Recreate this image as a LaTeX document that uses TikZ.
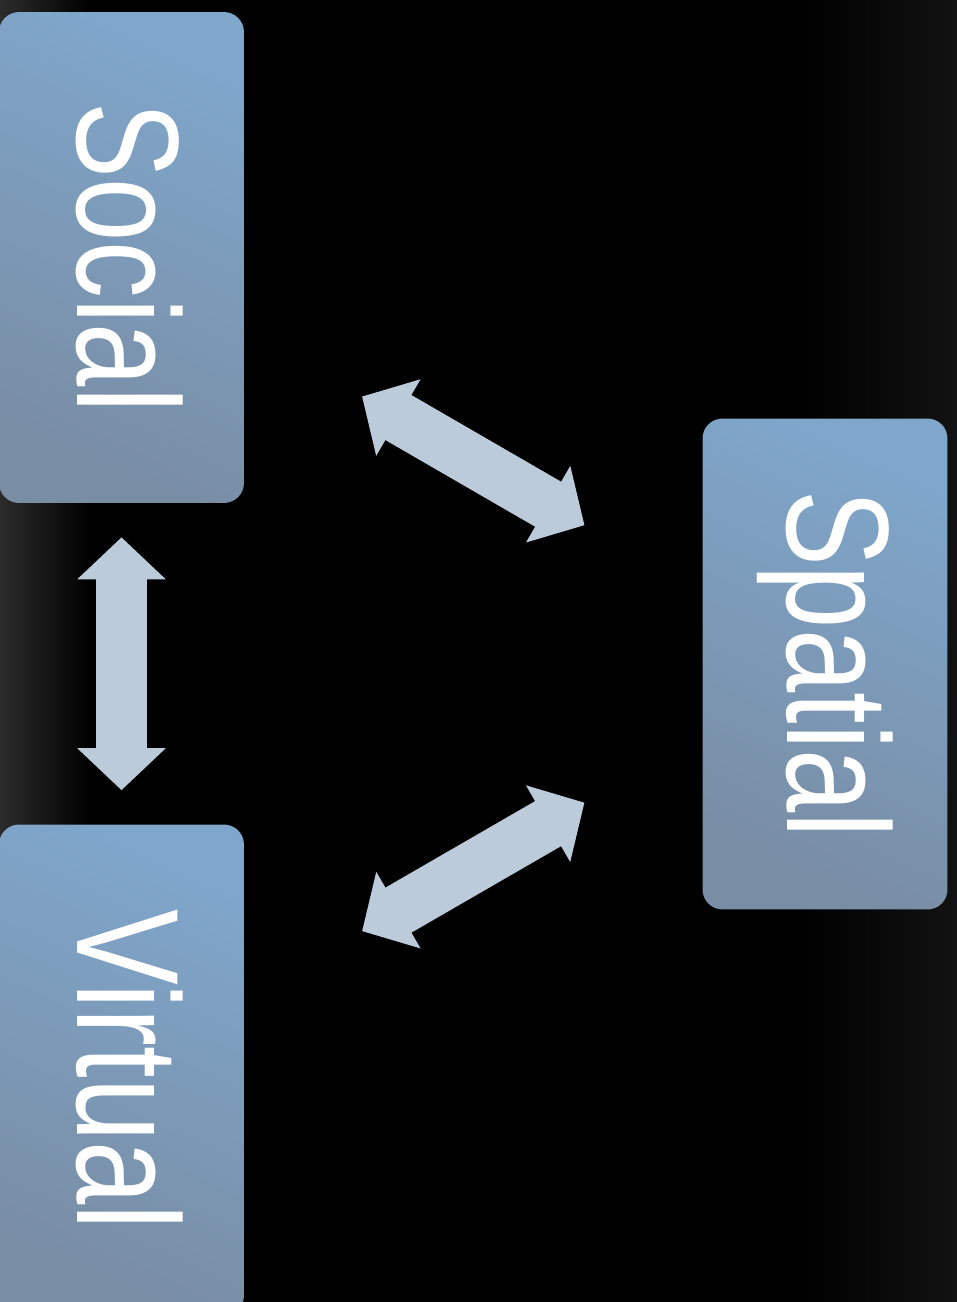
\documentclass[tikz,border=0pt]{standalone}
\usepackage{fontspec}
\setmainfont{Liberation Sans}
\usetikzlibrary{arrows.meta}
\definecolor{boxtop}{RGB}{127,166,203}
\definecolor{boxbottom}{RGB}{121,141,164}
\definecolor{arrowfill}{RGB}{188,203,218}
\definecolor{leftglow}{RGB}{44,44,44}
\definecolor{rightglow}{RGB}{18,18,18}

\begin{document}
\begin{tikzpicture}[x=0.02cm, y=-0.02cm,
  aspect/.style={rounded corners=0.4cm, top color=boxtop, bottom color=boxbottom, shading angle=-25,
    minimum width=4.9cm, minimum height=9.82cm, inner sep=0pt, text=white,
    font=\fontsize{83pt}{88pt}\selectfont},
  link/.style={draw=arrowfill, line width=1.04cm,
    {Triangle[width=1.72cm,length=0.84cm]}-{Triangle[width=1.72cm,length=0.84cm]}}]
\useasboundingbox (0,0) rectangle (957,1302);
\fill[black] (0,0) rectangle (957,1302);
\shade[left color=leftglow, right color=black] (0,0) rectangle (90,1302);
\shade[left color=black, right color=rightglow] (800,0) rectangle (957,1302);

\node[aspect] (social) at (121.5,257.5) {\hspace{0.32cm}\rotatebox{-90}{\scalebox{0.78}[1]{Social}}};
\node[aspect] (virtual) at (121.5,1070) {\hspace{0.32cm}\rotatebox{-90}{\scalebox{0.78}[1]{Virtual}}};
\node[aspect] (spatial) at (825,664) {\rotatebox{-90}{\scalebox{0.78}[1]{Spatial}}\hspace{0.12cm}};

\draw[link, shorten <=0.68cm, shorten >=0.68cm] (social) -- (virtual);
\draw[link, shorten <=2.72cm, shorten >=2.72cm] (social) -- (spatial);
\draw[link, shorten <=2.72cm, shorten >=2.72cm] (virtual) -- (spatial);
\end{tikzpicture}
\end{document}
